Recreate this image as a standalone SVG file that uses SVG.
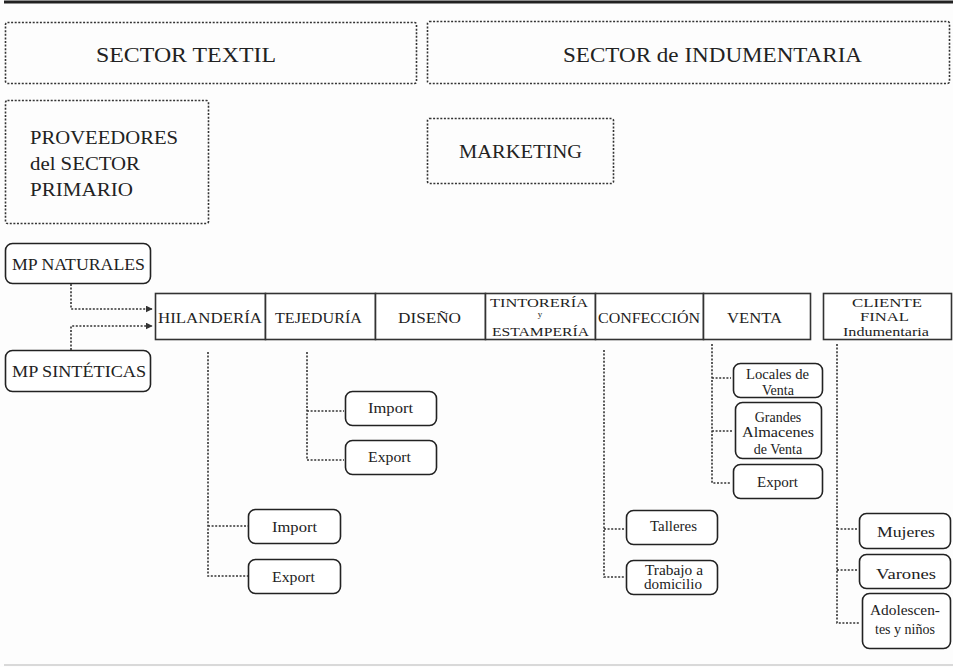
<svg xmlns="http://www.w3.org/2000/svg" width="953" height="667" viewBox="0 0 953 667">
<defs>
<style>
text{fill:#222;text-anchor:middle}
.sec{fill:none;stroke:#333;stroke-width:1.6;stroke-dasharray:2 1.6}
.rb{fill:#fff;stroke:#222;stroke-width:1.6}
.cell{fill:#fff;stroke:#333;stroke-width:1.6}
.con{fill:none;stroke:#333;stroke-width:1.6;stroke-dasharray:2 1.6}
.big{font-size:22px}
.mid{font-size:19px}
.mp{font-size:16px}
.row{font-size:15px}
.tri{font-size:13px}
.sm{font-size:14px}
.xs{font-size:9px}
</style>
<marker id="ah" viewBox="0 0 10 10" refX="9" refY="5" markerWidth="7" markerHeight="7" orient="auto" markerUnits="userSpaceOnUse">
<path d="M0,0 L10,5 L0,10 z" fill="#333"/>
</marker>
</defs>
<rect width="953" height="667" fill="#fdfdfd"/>
<line x1="4" y1="2" x2="953" y2="2" stroke="#222" stroke-width="3"/>
<line x1="4" y1="665" x2="953" y2="665" stroke="#ccc" stroke-width="1.5"/>

<g font-family="'Liberation Serif', 'DejaVu Serif', serif" lengthAdjust="spacingAndGlyphs">
<g id="sector-textil"><rect class="sec" x="5.5" y="22.5" width="411" height="61" rx="2"/><text class="big" x="186" y="62" textLength="180" lengthAdjust="spacingAndGlyphs">SECTOR TEXTIL</text></g>
<g id="sector-indumentaria"><rect class="sec" x="427.5" y="21.5" width="522" height="62" rx="2"/><text class="big" x="712.5" y="62" textLength="299" lengthAdjust="spacingAndGlyphs">SECTOR de INDUMENTARIA</text></g>
<g id="proveedores"><rect class="sec" x="5.5" y="100.5" width="203" height="123" rx="2"/>
<text class="mid" style="text-anchor:start" x="30" y="144" textLength="148" lengthAdjust="spacingAndGlyphs">PROVEEDORES</text>
<text class="mid" style="text-anchor:start" x="30" y="170" textLength="110" lengthAdjust="spacingAndGlyphs">del SECTOR</text>
<text class="mid" style="text-anchor:start" x="30" y="196" textLength="103" lengthAdjust="spacingAndGlyphs">PRIMARIO</text></g>
<g id="marketing"><rect class="sec" x="427.5" y="118.5" width="186" height="65" rx="2"/><text class="mid" x="520.5" y="158" textLength="123" lengthAdjust="spacingAndGlyphs">MARKETING</text></g>

<g id="mp-naturales"><rect class="rb" x="5.5" y="243.5" width="145" height="40" rx="7"/><text class="mp" x="78.5" y="270" textLength="133" lengthAdjust="spacingAndGlyphs">MP NATURALES</text></g>
<g id="mp-sinteticas"><rect class="rb" x="5.5" y="350.5" width="145" height="41" rx="7"/><text class="mp" x="79" y="377" textLength="134" lengthAdjust="spacingAndGlyphs">MP SINTÉTICAS</text></g>

<g id="hilanderia"><rect class="cell" x="155.5" y="293.5" width="110" height="46"/><text class="row" x="210" y="323" textLength="104" lengthAdjust="spacingAndGlyphs">HILANDERÍA</text></g>
<g id="tejeduria"><rect class="cell" x="265.5" y="293.5" width="110" height="46"/><text class="row" x="318.5" y="323" textLength="87" lengthAdjust="spacingAndGlyphs">TEJEDURÍA</text></g>
<g id="diseno"><rect class="cell" x="375.5" y="293.5" width="110" height="46"/><text class="row" x="429.5" y="323" textLength="63" lengthAdjust="spacingAndGlyphs">DISEÑO</text></g>
<g id="tintoreria"><rect class="cell" x="485.5" y="293.5" width="110" height="46"/>
<text class="tri" x="539" y="307" textLength="98" lengthAdjust="spacingAndGlyphs">TINTORERÍA</text><text class="xs" x="540" y="317">y</text><text class="tri" x="540.5" y="336" textLength="97" lengthAdjust="spacingAndGlyphs">ESTAMPERÍA</text></g>
<g id="confeccion"><rect class="cell" x="595.5" y="293.5" width="108" height="46"/><text class="row" x="649" y="323" textLength="102" lengthAdjust="spacingAndGlyphs">CONFECCIÓN</text></g>
<g id="venta"><rect class="cell" x="703.5" y="293.5" width="107" height="46"/><text class="row" x="754.5" y="323" textLength="55" lengthAdjust="spacingAndGlyphs">VENTA</text></g>
<g id="cliente-final"><rect class="cell" x="823.5" y="293.5" width="128" height="46"/>
<text class="tri" x="887" y="307" textLength="70" lengthAdjust="spacingAndGlyphs">CLIENTE</text><text class="tri" x="884.5" y="321" textLength="49" lengthAdjust="spacingAndGlyphs">FINAL</text><text class="tri" x="886" y="336" textLength="86" lengthAdjust="spacingAndGlyphs">Indumentaria</text></g>

<g id="hil-import"><rect class="rb" x="248.5" y="509.5" width="92" height="34" rx="7"/><text class="sm" x="294.5" y="532" textLength="45" lengthAdjust="spacingAndGlyphs">Import</text></g>
<g id="hil-export"><rect class="rb" x="248.5" y="559.5" width="92" height="34" rx="7"/><text class="sm" x="293.5" y="582" textLength="43" lengthAdjust="spacingAndGlyphs">Export</text></g>
<g id="tej-import"><rect class="rb" x="345.5" y="391.5" width="91" height="34" rx="7"/><text class="sm" x="390.5" y="413" textLength="45" lengthAdjust="spacingAndGlyphs">Import</text></g>
<g id="tej-export"><rect class="rb" x="345.5" y="440.5" width="91" height="34" rx="7"/><text class="sm" x="389.5" y="462" textLength="43" lengthAdjust="spacingAndGlyphs">Export</text></g>
<g id="talleres"><rect class="rb" x="626.5" y="510.5" width="91" height="34" rx="7"/><text class="sm" x="673.5" y="531" textLength="47" lengthAdjust="spacingAndGlyphs">Talleres</text></g>
<g id="trabajo"><rect class="rb" x="626.5" y="560.5" width="91" height="34" rx="7"/><text class="sm" x="674" y="575" textLength="58" lengthAdjust="spacingAndGlyphs">Trabajo a</text><text class="sm" x="673" y="589" textLength="58" lengthAdjust="spacingAndGlyphs">domicilio</text></g>
<g id="locales"><rect class="rb" x="733.5" y="363.5" width="89" height="34" rx="7"/><text class="sm" x="777.5" y="379" textLength="63" lengthAdjust="spacingAndGlyphs">Locales de</text><text class="sm" x="778" y="395">Venta</text></g>
<g id="grandes"><rect class="rb" x="735.5" y="402.5" width="86" height="56" rx="7"/><text class="sm" x="778" y="422">Grandes</text><text class="sm" x="778" y="437" textLength="72" lengthAdjust="spacingAndGlyphs">Almacenes</text><text class="sm" x="778" y="454">de Venta</text></g>
<g id="venta-export"><rect class="rb" x="733.5" y="464.5" width="89" height="34" rx="7"/><text class="sm" x="777.5" y="487" textLength="41" lengthAdjust="spacingAndGlyphs">Export</text></g>
<g id="mujeres"><rect class="rb" x="859.5" y="513.5" width="91" height="35" rx="7"/><text class="sm" x="906" y="537" textLength="58" lengthAdjust="spacingAndGlyphs">Mujeres</text></g>
<g id="varones"><rect class="rb" x="859.5" y="554.5" width="91" height="34" rx="7"/><text class="sm" x="906" y="579" textLength="60" lengthAdjust="spacingAndGlyphs">Varones</text></g>
<g id="adolescentes"><rect class="rb" x="862.5" y="593.5" width="88" height="55" rx="7"/><text class="sm" x="905" y="615" textLength="70" lengthAdjust="spacingAndGlyphs">Adolescen-</text><text class="sm" x="905" y="634" textLength="60" lengthAdjust="spacingAndGlyphs">tes y niños</text></g>
</g>

<g id="connectors">
<path class="con" d="M71,284 V309 H152" marker-end="url(#ah)"/>
<path class="con" d="M71,350 V326 H152" marker-end="url(#ah)"/>
<path class="con" d="M208,352 V576 H248 M208,526 H248"/>
<path class="con" d="M307,352 V460 H344 M307,411 H344"/>
<path class="con" d="M604,350 V577 H625 M604,529 H625"/>
<path class="con" d="M712,344 V483 H731 M712,378 H731 M712,431 H733"/>
<path class="con" d="M837,344 V623 H860 M837,529 H858 M837,570 H858"/>
</g>
</svg>
